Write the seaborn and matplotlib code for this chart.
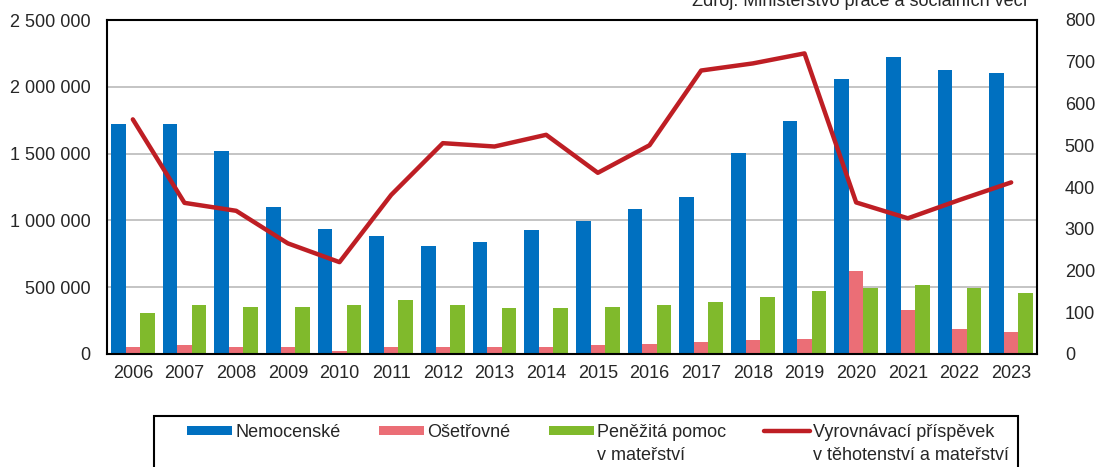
import numpy as np
import pandas as pd
import seaborn as sns
import matplotlib.pyplot as plt
from matplotlib.patches import Rectangle

# Data
years = [str(y) for y in range(2006, 2024)]
nemocenske = [1720000, 1720000, 1520000, 1100000, 935000, 883000, 808000, 838000, 928000,
              998000, 1088000, 1175000, 1505000, 1744000, 2060000, 2225000, 2123000, 2100000]
osetrovne = [52000, 65000, 52000, 52000, 25000, 52000, 52000, 52000, 52000,
             65000, 75000, 88000, 102000, 112000, 619000, 327000, 187000, 165000]
penezita = [305000, 367000, 352000, 352000, 367000, 404000, 367000, 342000, 342000,
            352000, 367000, 392000, 429000, 469000, 492000, 519000, 492000, 454000]
vyrovnavaci = [562, 362, 343, 265, 220, 381, 505, 497, 525,
               434, 500, 679, 696, 720, 363, 325, 369, 411]

bar_names = ['Nemocenské', 'Ošetřovné', 'Peněžitá pomoc']
line_name = 'Vyrovnávací příspěvek'
second_lines = {'Peněžitá pomoc': 'v mateřství', 'Vyrovnávací příspěvek': 'v těhotenství a mateřství'}
colors = ['#0070C0', '#EB6E76', '#80BA2C']
line_color = '#BE1E24'

sns.set_theme(style='white')
plt.rcParams['font.family'] = ['Liberation Sans', 'DejaVu Sans']
plt.rcParams['font.size'] = 13

df = pd.DataFrame({
    'Rok': years * 3,
    'Hodnota': nemocenske + osetrovne + penezita,
    'Dávka': [n for n in bar_names for _ in years],
})

W, H = 1099, 467
fig = plt.figure(figsize=(W / 100, H / 100), dpi=100)
ax = fig.add_axes([107 / W, 113 / H, 930 / W, 334 / H])

sns.barplot(data=df, x='Rok', y='Hodnota', hue='Dávka', palette=colors,
            width=0.85, saturation=1, linewidth=0, ax=ax)
handles, labels = ax.get_legend_handles_labels()
ax.get_legend().remove()

ax.set_xlim(-0.5, len(years) - 0.5)
ax.set_ylim(0, 2500000)
ax.set_yticks(np.arange(0, 2500001, 500000))
ax.set_yticklabels([f'{int(v):,}'.replace(',', ' ') for v in ax.get_yticks()])
ax.yaxis.grid(True, color='#BFBFBF', lw=1.3)
ax.set_axisbelow(True)
ax.set_xlabel('')
ax.set_ylabel('')
ax.tick_params(axis='y', length=0, pad=12, labelsize=13)
ax.tick_params(axis='x', length=0, pad=8, labelsize=13)
for s in ax.spines.values():
    s.set_visible(True)
    s.set_color('black')
    s.set_linewidth(1.5)

ax2 = ax.twinx()
sns.lineplot(x=np.arange(len(years)), y=vyrovnavaci, color=line_color, lw=3.2,
             label=line_name, ax=ax2)
h2, l2 = ax2.get_legend_handles_labels()
ax2.get_legend().remove()
ax2.set_ylim(0, 800)
ax2.set_yticks(np.arange(0, 801, 100))
ax2.tick_params(axis='y', length=0, pad=20, labelsize=13)
ax2.set_ylabel('')
for s in ax2.spines.values():
    s.set_visible(False)

leg = fig.legend(handles + h2, labels + l2, loc='upper left',
                 bbox_to_anchor=(187 / W, 0.0, 807 / W, 43 / H), mode='expand',
                 ncol=4, frameon=False, fontsize=13, handlelength=2.5,
                 handleheight=0.45, handletextpad=0.17, borderpad=0, borderaxespad=0)

fig.canvas.draw()
renderer = fig.canvas.get_renderer()
for t in leg.get_texts():
    if t.get_text() in second_lines:
        bb = t.get_window_extent(renderer)
        fig.text(bb.x0 / W, (bb.y1 - 23) / H, second_lines[t.get_text()],
                 ha='left', va='top', fontsize=13)

fig.add_artist(Rectangle((154 / W, -0.1), (1018 - 154) / W, 51 / H + 0.1,
                         transform=fig.transFigure, fill=False, ec='black', lw=1.5))

fig.text(1028 / W, 1 - 5.5 / H, 'Zdroj: Ministerstvo práce a sociálních věcí',
         ha='right', va='baseline', fontsize=13)

fig.savefig('out.png', dpi=100)
